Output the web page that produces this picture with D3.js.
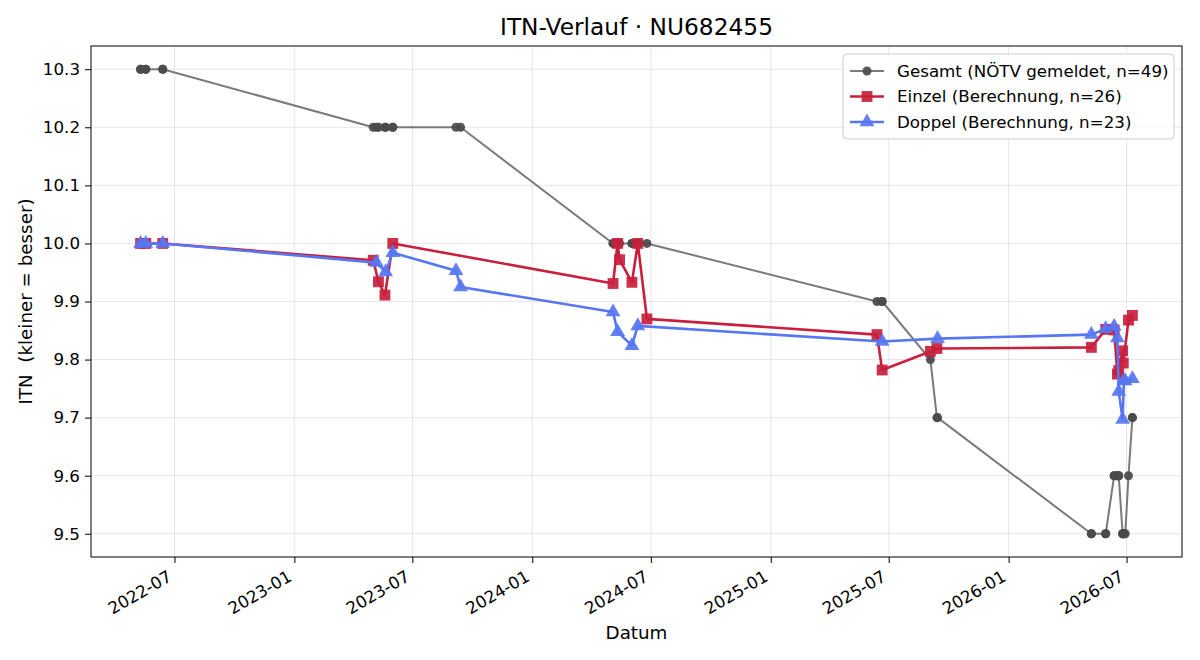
<!DOCTYPE html>
<html><head><meta charset="utf-8">
<script src="https://cdn.jsdelivr.net/npm/d3@7"></script>
<style>
body{margin:0;background:#fff;}
svg{display:block;font-family:"DejaVu Sans",sans-serif;}
</style></head>
<body><svg id="chart" width="1200" height="660"></svg>
<script>
// ---- data ----
const gesamtDates = [
"2022-05-10","2022-05-10","2022-05-18","2022-05-18","2022-06-13","2022-06-13",
"2023-05-02","2023-05-07","2023-05-10","2023-05-20","2023-05-21","2023-06-01","2023-06-01","2023-09-06","2023-09-13",
"2024-05-04","2024-05-04","2024-05-11","2024-05-11","2024-05-14","2024-06-02","2024-06-02","2024-06-11","2024-06-11","2024-06-25",
"2025-06-13","2025-06-21","2025-06-21","2025-09-03","2025-09-13","2025-09-14",
"2026-05-08","2026-05-08","2026-05-30","2026-05-30","2026-06-12","2026-06-12","2026-06-17","2026-06-17","2026-06-19","2026-06-19",
"2026-06-25","2026-06-25","2026-06-26","2026-06-27","2026-06-29","2026-07-04","2026-07-10","2026-07-10"];
const gesamtValues = [
10.3,10.3,10.3,10.3,10.3,10.3,
10.2,10.2,10.2,10.2,10.2,10.2,10.2,10.2,10.2,
10.0,10.0,10.0,10.0,10.0,10.0,10.0,10.0,10.0,10.0,
9.9,9.9,9.9,9.8,9.7,9.7,
9.5,9.5,9.5,9.5,9.6,9.6,9.6,9.6,9.6,9.6,
9.5,9.5,9.5,9.5,9.5,9.6,9.7,9.7];

const einzelDates = [
"2022-05-10","2022-05-18","2022-06-13",
"2023-05-02","2023-05-10","2023-05-20","2023-06-01",
"2024-05-04","2024-05-11","2024-05-14","2024-06-02","2024-06-11","2024-06-25",
"2025-06-13","2025-06-21","2025-09-03","2025-09-13",
"2026-05-08","2026-05-30","2026-06-12","2026-06-17","2026-06-19","2026-06-25","2026-06-26","2026-07-04","2026-07-10"];
const einzelValues = [
10.0,10.0,10.0,
9.971,9.934,9.911,10.0,
9.931,10.0,9.972,9.933,10.0,9.870,
9.843,9.782,9.814,9.819,
9.821,9.852,9.851,9.775,9.781,9.815,9.794,9.868,9.876];

const doppelDates = [
"2022-05-10","2022-05-18","2022-06-13",
"2023-05-07","2023-05-21","2023-06-01","2023-09-06","2023-09-13",
"2024-05-04","2024-05-11","2024-06-02","2024-06-11",
"2025-06-21","2025-09-14",
"2026-05-08","2026-05-30","2026-06-12","2026-06-17","2026-06-19","2026-06-25","2026-06-27","2026-06-29","2026-07-10"];
const doppelValues = [
10.0,10.0,10.0,
9.967,9.951,9.984,9.953,9.925,
9.882,9.848,9.824,9.858,
9.831,9.836,
9.843,9.853,9.857,9.837,9.745,9.697,9.764,9.763,9.767];

const yTicks = [9.5,9.6,9.7,9.8,9.9,10.0,10.1,10.2,10.3];
const legendLabels = ["Gesamt (NÖTV gemeldet, n=49)","Einzel (Berechnung, n=26)","Doppel (Berechnung, n=23)"];
const titleText = "ITN-Verlauf · NU682455";
const xLabel = "Datum";
const yLabel = "ITN  (kleiner = besser)";

// ---- build ----
const parse = d3.utcParse("%Y-%m-%d");
const mk = (ds, vs) => ds.map((d,i)=>({date:parse(d), v:vs[i]}));
const gesamt = mk(gesamtDates, gesamtValues);
const einzel = mk(einzelDates, einzelValues);
const doppel = mk(doppelDates, doppelValues);
const all = gesamt.concat(einzel, doppel);

const svg = d3.select("#chart");
const L=91, T=46, R=1182, B=557;
const FS = 16.7;

const [dmin,dmax] = d3.extent(all, d=>d.date);
const span = dmax - dmin;
const x = d3.scaleUtc().domain([new Date(+dmin - span*0.05), new Date(+dmax + span*0.05)]).range([L,R]);
const [vmin,vmax] = d3.extent(all, d=>d.v);
const vs = vmax - vmin;
const y = d3.scaleLinear().domain([vmin - vs*0.05, vmax + vs*0.05]).range([B,T]);

const xTicks = x.ticks(d3.utcMonth.every(6));

// grid
const grid = svg.append("g");
grid.selectAll(".gx").data(xTicks).join("line")
  .attr("x1",d=>x(d)).attr("x2",d=>x(d)).attr("y1",T).attr("y2",B)
  .attr("stroke","#b0b0b0").attr("stroke-opacity",0.3).attr("stroke-width",1);
grid.selectAll(".gy").data(yTicks).join("line")
  .attr("y1",d=>y(d)).attr("y2",d=>y(d)).attr("x1",L).attr("x2",R)
  .attr("stroke","#b0b0b0").attr("stroke-opacity",0.3).attr("stroke-width",1);

// axes
const xAxis = svg.append("g").attr("transform",`translate(0,${B})`)
  .call(d3.axisBottom(x).tickValues(xTicks).tickFormat(d3.utcFormat("%Y-%m")).tickSize(6).tickSizeOuter(0));
xAxis.select(".domain").remove();
xAxis.selectAll("line").attr("stroke","#000").attr("stroke-width",1);
xAxis.selectAll("text").attr("font-size",FS).attr("fill","#000").attr("font-family","DejaVu Sans")
  .attr("text-anchor","end").attr("dy",null).attr("y",0)
  .attr("transform","translate(-2,23) rotate(-30)");

const yAxis = svg.append("g").attr("transform",`translate(${L},0)`)
  .call(d3.axisLeft(y).tickValues(yTicks).tickFormat(d3.format(".1f")).tickSize(6).tickSizeOuter(0));
yAxis.select(".domain").remove();
yAxis.selectAll("line").attr("stroke","#000").attr("stroke-width",1);
yAxis.selectAll("text").attr("font-size",FS).attr("fill","#000").attr("font-family","DejaVu Sans").attr("x",-11);

// frame
svg.append("rect").attr("x",L).attr("y",T).attr("width",R-L).attr("height",B-T)
  .attr("fill","none").attr("stroke","#000").attr("stroke-width",1);

// lines
const line = d3.line().x(d=>x(d.date)).y(d=>y(d.v));
const plot = svg.append("g");

const styles = [
  {data:gesamt, line:"#7a7a7a", fill:"#4a4a4a", w:2, shape:"circle"},
  {data:einzel, line:"#c8203c", fill:"#c8203c", w:2.6, shape:"square"},
  {data:doppel, line:"#5676f2", fill:"#5676f2", w:2.6, shape:"triangle"}
];
const sym = {circle:d3.symbol().type(d3.symbolCircle).size(64),
             square:d3.symbol().type(d3.symbolSquare).size(118),
             triangle:d3.symbol().type(d3.symbolTriangle).size(95)};

styles.forEach(s=>{
  plot.append("path").datum(s.data).attr("d",line)
    .attr("fill","none").attr("stroke",s.line).attr("stroke-width",s.w).attr("stroke-linejoin","round");
  plot.selectAll(null).data(s.data).join("path")
    .attr("d",sym[s.shape]).attr("transform",d=>`translate(${x(d.date)},${y(d.v)})`)
    .attr("fill",s.fill).attr("fill-opacity",0.92);
});

// title & labels
svg.append("text").attr("x",(L+R)/2).attr("y",35).attr("text-anchor","middle")
  .attr("font-size",23.3).attr("fill","#000").text(titleText);
svg.append("text").attr("x",(L+R)/2).attr("y",639).attr("text-anchor","middle")
  .attr("font-size",18.3).attr("fill","#000").text(xLabel);
svg.append("text").attr("transform",`translate(32,${(T+B)/2}) rotate(-90)`).attr("text-anchor","middle")
  .attr("font-size",18.3).attr("fill","#000").style("white-space","pre").text(yLabel);

// legend
const lg = svg.append("g");
lg.append("rect").attr("x",843).attr("y",54).attr("width",331).attr("height",85).attr("rx",4)
  .attr("fill","#fff").attr("fill-opacity",0.8).attr("stroke","#cccccc");
styles.forEach((s,i)=>{
  const yy = 71 + i*25.5;
  lg.append("line").attr("x1",850).attr("x2",884).attr("y1",yy).attr("y2",yy)
    .attr("stroke",s.line).attr("stroke-width",s.w);
  lg.append("path").attr("d",sym[s.shape]).attr("transform",`translate(867,${yy})`)
    .attr("fill",s.fill).attr("fill-opacity",0.92);
  lg.append("text").attr("x",897).attr("y",yy).attr("dy","0.35em")
    .attr("font-size",FS).attr("fill","#000").text(legendLabels[i]);
});
</script></body></html>
